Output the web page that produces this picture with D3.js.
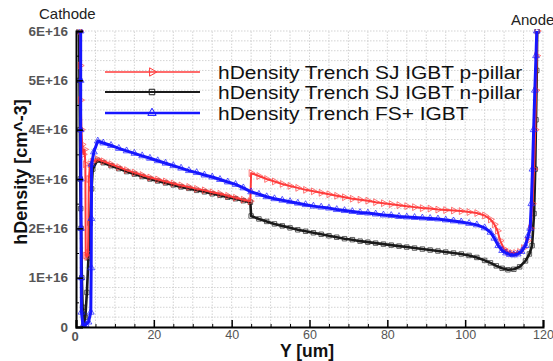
<!DOCTYPE html>
<html>
<head>
<meta charset="utf-8">
<script src="https://cdn.jsdelivr.net/npm/d3@7"></script>
<style>
  body { margin: 0; background: #fff; }
  svg { display: block; font-family: "Liberation Sans", Arial, sans-serif; }
</style>
</head>
<body>
<div id="chart"></div>
<script>
// values in units of 1E+16 cm^-3, x in um
const pPillar = [[1.0,6.0],[1.1,5.3],[1.2,4.6],[1.4,4.0],[1.6,3.7],[1.9,3.5],[2.2,3.6],[2.4,3.3],[2.5,1.45],[2.8,1.42],[3.1,1.5],[3.3,3.0],[3.6,3.3],[4.2,3.35],[5.5,3.4],[7,3.36],[9,3.3],[11,3.24],[13,3.18],[15,3.13],[17,3.08],[19,3.03],[21,2.99],[23,2.95],[25,2.91],[27,2.87],[29,2.84],[31,2.8],[33,2.77],[35,2.73],[37,2.7],[39,2.66],[41,2.62],[43,2.58],[44.8,2.55],[45,3.12],[47,3.06],[49,3.0],[51,2.95],[53,2.9],[55,2.86],[57,2.82],[59,2.78],[61,2.75],[63,2.72],[65,2.69],[67,2.66],[69,2.63],[71,2.6],[73,2.58],[75,2.56],[77,2.53],[79,2.51],[81,2.49],[83,2.47],[85,2.45],[87,2.43],[89,2.41],[91,2.4],[93,2.38],[95,2.37],[97,2.36],[99,2.35],[101,2.33],[103,2.31],[105,2.26],[106.5,2.18],[107.5,2.08],[108.3,1.95],[109,1.75],[110,1.58],[111,1.52],[112,1.5],[113,1.5],[114,1.52],[115,1.6],[116,1.75],[116.8,2.0],[117.3,2.5],[117.7,3.2],[118,4.0],[118.2,4.8],[118.4,5.5],[118.5,6.0]];

const nPillar = [[0.8,6.0],[0.9,5.0],[1.0,4.0],[1.1,3.0],[1.2,2.4],[1.3,2.0],[1.5,1.0],[1.7,0.4],[2.0,0.05],[2.4,0.2],[2.8,0.7],[3.2,1.4],[3.6,2.1],[4.0,2.8],[4.3,3.2],[5.5,3.38],[7,3.33],[9,3.27],[11,3.21],[13,3.15],[15,3.1],[17,3.05],[19,3.0],[21,2.96],[23,2.92],[25,2.88],[27,2.84],[29,2.81],[31,2.77],[33,2.74],[35,2.7],[37,2.67],[39,2.63],[41,2.6],[43,2.56],[44.8,2.53],[45,2.25],[47,2.19],[49,2.14],[51,2.09],[53,2.05],[55,2.01],[57,1.97],[59,1.94],[61,1.91],[63,1.88],[65,1.85],[67,1.82],[69,1.79],[71,1.77],[73,1.74],[75,1.72],[77,1.7],[79,1.68],[81,1.66],[83,1.64],[85,1.62],[87,1.6],[89,1.58],[91,1.56],[93,1.54],[95,1.52],[97,1.5],[99,1.48],[101,1.45],[103,1.41],[105,1.35],[106.5,1.3],[108,1.24],[109.5,1.19],[111,1.16],[112.5,1.17],[114,1.22],[115.5,1.34],[116.5,1.48],[117.2,1.65],[117.7,2.3],[118,3.2],[118.2,4.2],[118.4,5.2],[118.5,6.0]];

const fsPlus = [[1.2,6.0],[1.2,5.0],[1.2,4.0],[1.25,3.0],[1.3,2.0],[1.35,1.0],[1.4,0.3],[1.8,0.03],[2.5,0.05],[3.2,0.1],[3.8,0.3],[3.9,1.2],[3.95,2.2],[4.0,3.3],[4.6,3.55],[5.6,3.77],[7,3.73],[9,3.68],[11,3.62],[13,3.57],[15,3.52],[17,3.47],[19,3.42],[21,3.37],[23,3.32],[25,3.27],[27,3.22],[29,3.17],[31,3.13],[33,3.08],[35,3.04],[37,2.99],[39,2.94],[41,2.89],[43,2.82],[45,2.74],[47,2.69],[49,2.64],[51,2.6],[53,2.57],[55,2.54],[57,2.51],[59,2.48],[61,2.45],[63,2.43],[65,2.41],[67,2.38],[69,2.36],[71,2.34],[73,2.32],[75,2.31],[77,2.29],[79,2.27],[81,2.26],[83,2.24],[85,2.23],[87,2.22],[89,2.21],[91,2.2],[93,2.19],[95,2.17],[97,2.15],[99,2.13],[101,2.1],[103,2.07],[105,2.01],[106.5,1.92],[107.5,1.8],[108.5,1.65],[109.5,1.55],[110.5,1.5],[111.5,1.47],[112.5,1.46],[113.5,1.48],[114.5,1.53],[115.5,1.65],[116.2,1.85],[116.7,2.0],[117,2.5],[117.3,3.2],[117.6,4.0],[117.9,4.8],[118.2,5.5],[118.4,6.0]];

const seriesNames = ["hDensity Trench SJ IGBT p-pillar", "hDensity Trench SJ IGBT n-pillar", "hDensity Trench FS+ IGBT"];
const xTicks = [0, 20, 40, 60, 80, 100, 120];
const yTicks = [0, 1, 2, 3, 4, 5, 6];

const W = 553, H = 361;
const x = d3.scaleLinear([0, 120], [76, 543]);
const y = d3.scaleLinear([0, 6], [327, 31]);

const svg = d3.select("#chart").append("svg").attr("width", W).attr("height", H);

// grid
const grid = svg.append("g").attr("stroke", "#c8c8c8").attr("stroke-width", 0.8).attr("stroke-dasharray", "1.5,1.5");
grid.selectAll("line.v").data(d3.range(5, 121, 5)).join("line")
  .attr("x1", d => x(d)).attr("x2", d => x(d)).attr("y1", y(0)).attr("y2", y(6));
grid.selectAll("line.h").data(d3.range(1, 31).map(i => i * 0.2)).join("line")
  .attr("x1", x(0)).attr("x2", x(120)).attr("y1", d => y(d)).attr("y2", d => y(d));

svg.append("defs").append("clipPath").attr("id", "clip")
  .append("rect").attr("x", x(0)).attr("y", y(6) - 2).attr("width", x(120) - x(0) + 4).attr("height", y(0) - y(6) + 2);

const series = [
  { data: pPillar, color: "#ff3b3b", width: 2, sym: d3.symbolTriangle, rot: 90, size: 20 },
  { data: nPillar, color: "#1a1a1a", width: 2.6, sym: d3.symbolSquare, rot: 0, size: 20 },
  { data: fsPlus, color: "#1616ff", width: 3, sym: d3.symbolTriangle, rot: 0, size: 20 }
];

const line = d3.line().x(d => x(d[0])).y(d => y(d[1]));
const plot = svg.append("g").attr("clip-path", "url(#clip)");

// draw black first, then red, then blue on top
[1, 0, 2].forEach(i => {
  const s = series[i];
  const g = plot.append("g");
  g.append("path").datum(s.data).attr("d", line)
    .attr("fill", "none").attr("stroke", s.color).attr("stroke-width", s.width)
    .attr("stroke-linejoin", "round");
  g.selectAll("path.m").data(s.data).join("path").attr("class", "m")
    .attr("d", d3.symbol(s.sym, s.size))
    .attr("transform", d => `translate(${x(d[0])},${y(d[1])}) rotate(${s.rot})`)
    .attr("fill", "none").attr("stroke", s.color).attr("stroke-width", 0.8).attr("opacity", 0.85);
});

// axes
const xAxis = svg.append("g").attr("transform", `translate(0,${y(0)})`)
  .call(d3.axisBottom(x).tickValues(xTicks).tickSize(-7).tickPadding(3));
xAxis.selectAll(".tick").filter(d => d === 0).select("text").remove();
svg.append("g").attr("transform", `translate(0,${y(0)})`)
  .call(d3.axisBottom(x).tickValues(d3.range(5, 120, 5).filter(d => d % 20)).tickSize(-3).tickFormat(""))
  .select(".domain").remove();
const yAxis = svg.append("g").attr("transform", `translate(${x(0)},0)`)
  .call(d3.axisLeft(y).tickValues(yTicks).tickSize(-7).tickPadding(8)
    .tickFormat(d => d === 0 ? "0" : d + "E+16"));
svg.append("g").attr("transform", `translate(${x(0)},0)`)
  .call(d3.axisLeft(y).tickValues(d3.range(0.5, 6, 1)).tickSize(-3).tickFormat(""))
  .select(".domain").remove();

[xAxis, yAxis].forEach(a => {
  a.select(".domain").attr("stroke", "#000").attr("stroke-width", 2);
  a.selectAll(".tick line").attr("stroke", "#000").attr("stroke-width", 1.5);
  a.selectAll("text").attr("fill", "#555")
    .attr("font-family", "'Liberation Sans', Arial, sans-serif");
});
xAxis.selectAll("text").attr("font-size", 12.5);
yAxis.selectAll("text").attr("font-size", 13.5).attr("font-weight", "bold");
// x "0" label
svg.append("text").attr("x", x(0) - 1).attr("y", 341).attr("text-anchor", "middle")
  .attr("font-size", 13).attr("fill", "#555").attr("font-weight", "bold").text("0");

// titles
svg.append("text").attr("x", 307).attr("y", 357).attr("text-anchor", "middle")
  .attr("font-size", 17.5).attr("font-weight", "bold").attr("fill", "#111").text("Y [um]");
svg.append("text").attr("transform", "translate(27,172) rotate(-90)").attr("text-anchor", "middle")
  .attr("font-size", 18).attr("font-weight", "bold").attr("fill", "#111").text("hDensity [cm^-3]");
svg.append("text").attr("x", 39).attr("y", 19).attr("font-size", 15).attr("fill", "#222").text("Cathode");
svg.append("text").attr("x", 511).attr("y", 25).attr("font-size", 15).attr("fill", "#222").text("Anode");

// legend
const legY = [72, 92, 113];
const leg = svg.append("g");
series.forEach((s, i) => {
  leg.append("line").attr("x1", 105).attr("x2", 200).attr("y1", legY[i]).attr("y2", legY[i])
    .attr("stroke", s.color).attr("stroke-width", s.width - 0.5);
  leg.append("path").attr("d", d3.symbol(s.sym, 30)())
    .attr("transform", `translate(152,${legY[i]}) rotate(${s.rot})`)
    .attr("fill", "none").attr("stroke", s.color).attr("stroke-width", 1);
  leg.append("text").attr("transform", `translate(218,${legY[i] + 6.5}) scale(1.09,1)`)
    .attr("font-size", 19.2).attr("fill", "#111").text(seriesNames[i]);
});
</script>
</body>
</html>
